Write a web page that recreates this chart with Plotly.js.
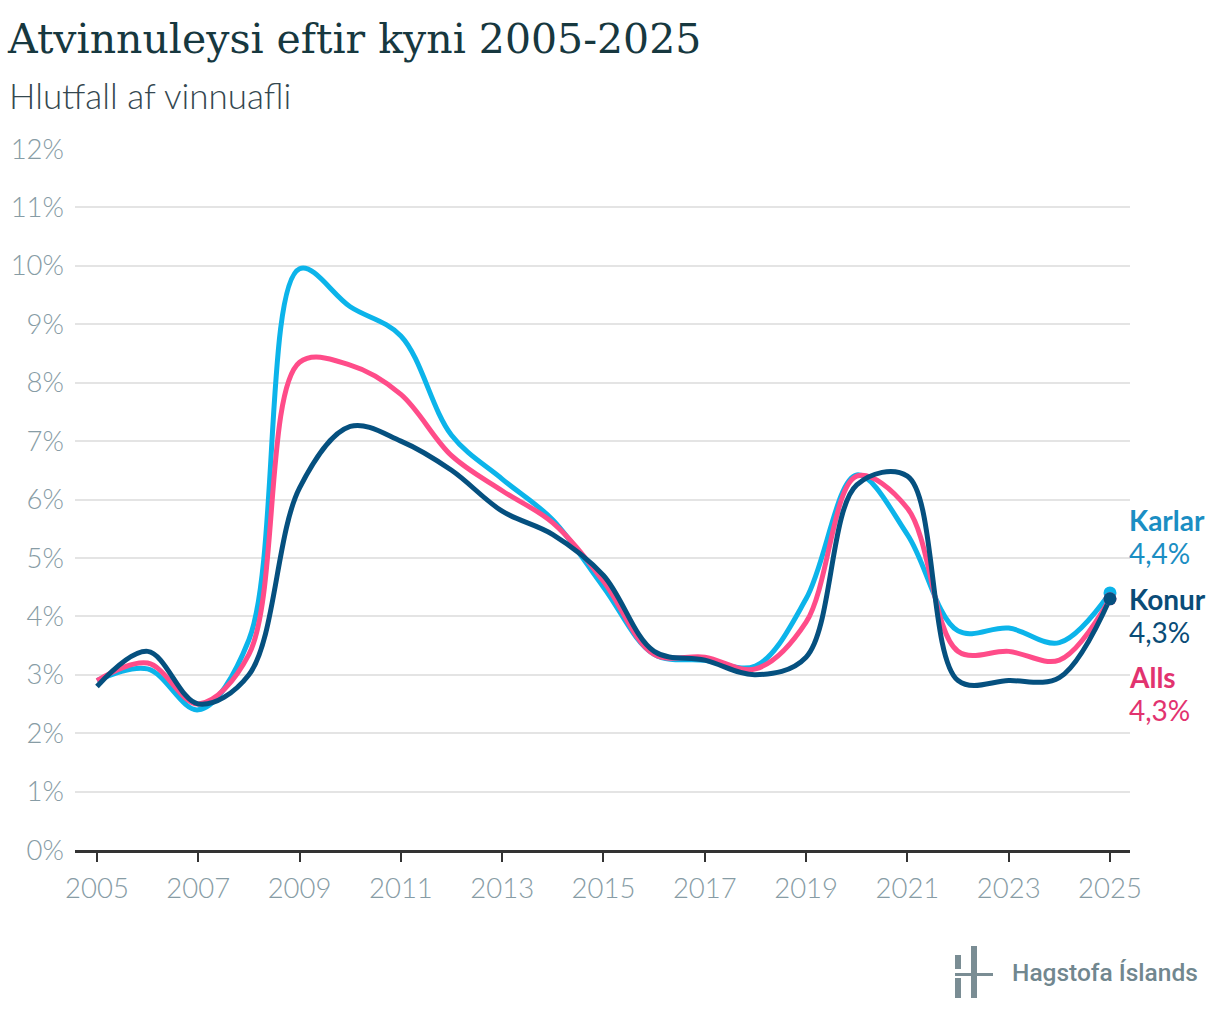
<!DOCTYPE html>
<html>
<head>
<meta charset="utf-8">
<script src="https://cdn.plot.ly/plotly-3.0.1.min.js"></script>
<style>
  html, body { margin: 0; padding: 0; background: #fff; }
  #chart { width: 1220px; height: 1022px; }
</style>
</head>
<body>
<div id="chart"></div>
<script>
// árleg gildi, lesin af myndinni
const years = [2005, 2006, 2007, 2008, 2009, 2010, 2011, 2012, 2013, 2014, 2015,
               2016, 2017, 2018, 2019, 2020, 2021, 2022, 2023, 2024, 2025];
const karlar = [2.9, 3.1, 2.4, 3.6, 9.95, 9.3, 8.8, 7.1, 6.35, 5.65, 4.5,
                3.35, 3.25, 3.15, 4.3, 6.42, 5.4, 3.75, 3.8, 3.55, 4.4];
const alls = [2.9, 3.2, 2.5, 3.35, 8.35, 8.3, 7.8, 6.75, 6.15, 5.6, 4.6,
              3.35, 3.3, 3.1, 3.9, 6.4, 5.85, 3.4, 3.4, 3.25, 4.3];
const konur = [2.8, 3.4, 2.5, 3.0, 6.2, 7.25, 7.0, 6.5, 5.8, 5.4, 4.7,
               3.4, 3.25, 3.0, 3.3, 6.25, 6.4, 2.9, 2.9, 2.95, 4.3];
const xTicks = [2005, 2007, 2009, 2011, 2013, 2015, 2017, 2019, 2021, 2023, 2025];
const yTicks = [0, 1, 2, 3, 4, 5, 6, 7, 8, 9, 10, 11, 12];

const series = [
  { name: 'Karlar', values: karlar, line: '#0cb4ea', label: '#1b8ec3' },
  { name: 'Alls', values: alls, line: '#ff4c89', label: '#e2336f' },
  { name: 'Konur', values: konur, line: '#05507f', label: '#0a4c77' },
];

// plot box in pixels: left 75, right 1130, top 149, bottom 850
const L = 75, R = 1130, T = 149, B = 850;
const px = x => (x - L) / (R - L);
const py = y => (B - y) / (B - T);
const lastIdx = years.length - 1;
const fmt = v => v.toFixed(1).replace('.', ',') + '%';

const traces = series.map(s => ({
  x: years, y: s.values, name: s.name, type: 'scatter', mode: 'lines',
  line: { color: s.line, width: 5, shape: 'spline', smoothing: 1 },
  hoverinfo: 'skip',
}));
// endapunktar
series.forEach(s => traces.push({
  x: [years[lastIdx]], y: [s.values[lastIdx]], type: 'scatter', mode: 'markers',
  marker: { color: s.line, size: 13 }, hoverinfo: 'skip',
}));

// name / value rows next to the end of the lines
const labelY = { Karlar: [520, 553], Konur: [599, 632], Alls: [677, 710] };
const annotations = [];
series.forEach(s => {
  const [yName, yVal] = labelY[s.name];
  annotations.push({
    xref: 'paper', yref: 'paper', x: px(1127), y: py(yName),
    xanchor: 'left', yanchor: 'middle', showarrow: false,
    text: '<b>' + s.name + '</b>',
    font: { family: 'Lato', size: 28, color: s.label },
  });
  annotations.push({
    xref: 'paper', yref: 'paper', x: px(1127), y: py(yVal),
    xanchor: 'left', yanchor: 'middle', showarrow: false,
    text: fmt(s.values[lastIdx]),
    font: { family: 'Lato', size: 28, color: s.label },
  });
});
annotations.push({
  xref: 'paper', yref: 'paper', x: px(7), y: py(95), xanchor: 'left', yanchor: 'middle',
  showarrow: false, text: 'Hlutfall af vinnuafli',
  font: { family: 'Lato', weight: 300, size: 35, color: '#34474f' },
});
annotations.push({
  xref: 'paper', yref: 'paper', x: px(1010), y: py(972), xanchor: 'left', yanchor: 'middle',
  showarrow: false, text: 'Hagstofa Íslands',
  font: { family: 'Roboto', weight: 500, size: 24.5, color: '#71878f' },
});

const logo = '#7a8d94';
const rect = (x0, y0, x1, y1) => ({
  type: 'rect', xref: 'paper', yref: 'paper', x0: px(x0), x1: px(x1), y0: py(y0), y1: py(y1),
  fillcolor: logo, line: { width: 0 },
});
const shapes = [
  rect(955, 955, 961, 969),
  rect(955, 978, 961, 998),
  rect(971, 946, 977, 998),
  rect(955, 973, 993, 976),
];

const layout = {
  width: 1220, height: 1022,
  margin: { l: L, r: 1220 - R, t: T, b: 1022 - B },
  paper_bgcolor: '#fff', plot_bgcolor: '#fff',
  showlegend: false,
  separators: ',.',
  title: {
    text: 'Atvinnuleysi eftir kyni 2005-2025',
    xref: 'container', yref: 'container', x: 8 / 1220, y: 1 - 39 / 1022,
    xanchor: 'left', yanchor: 'middle',
    font: { family: 'DejaVu Serif', size: 41, color: '#17383f' },
  },
  xaxis: {
    range: [2004.566, 2025.395], tickvals: xTicks, ticktext: xTicks.map(String),
    showgrid: false, zeroline: false,
    showline: true, linecolor: '#333', linewidth: 2.5,
    ticks: 'outside', ticklen: 9, tickwidth: 2, tickcolor: '#333',
    ticklabelstandoff: 3,
    tickfont: { family: 'Lato', weight: 300, size: 27.5, color: '#879ca5' },
    fixedrange: true,
  },
  yaxis: {
    range: [0, 12], tickvals: yTicks, ticktext: yTicks.map(v => v + '%'),
    showgrid: true, gridcolor: '#e4e4e4', gridwidth: 2,
    zeroline: false, showline: false, ticks: '',
    ticklabelstandoff: 10,
    tickfont: { family: 'Lato', weight: 300, size: 27.5, color: '#879ca5' },
    fixedrange: true,
  },
  annotations, shapes,
};

Plotly.newPlot('chart', traces, layout, { displayModeBar: false, staticPlot: true });
</script>
</body>
</html>
